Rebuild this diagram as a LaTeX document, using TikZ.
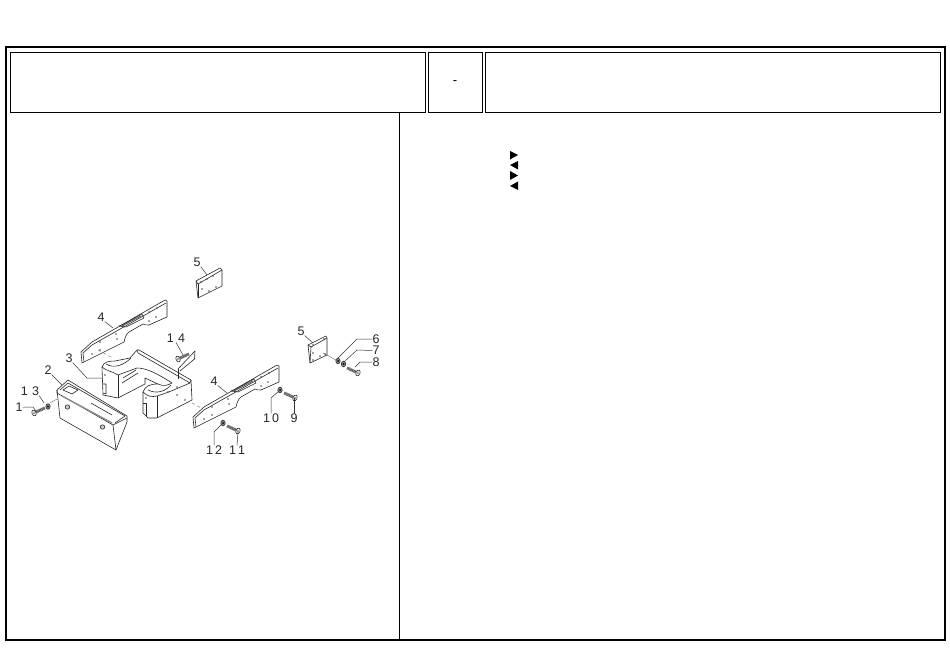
\documentclass[tikz,border=0pt]{standalone}
\usepackage{fontspec}
\setmainfont{Liberation Sans}
\tikzset{part/.style={line width=0.6pt,line join=round,black!85},
         axis/.style={line width=0.35pt,black!65},
         leader/.style={line width=0.5pt,black!80},
         frame/.style={draw,line width=1pt,inner sep=0pt,anchor=north west,minimum height=60.5pt},
         callout/.style={font=\fontsize{12.5}{13}\selectfont,text=black!85,inner sep=0pt},
         marker/.style={fill=black,draw=none},
         bolt/.pic={
           \draw[line width=3pt,black!65,dash pattern=on 1pt off 0.5pt](1,0)--(12,0);
           \draw[part,fill=white](0,0)circle[x radius=2,y radius=3];
           \fill[black!70](0,0)circle(0.9);
         },
         washer/.pic={
           \draw[part,fill=black!45](0,0)circle[x radius=2.2,y radius=2.8];
           \fill[black](0,0)circle(1);
         },
         rail/.pic={
           \draw[part,fill=white](0,0)--(-1,-11)--(10,-21)--(83,-63)--(85,-62)--(85,-46)--(67,-38)
             ..controls(64,-37)and(63,-39)..(61,-39)--(47,-31)..controls(44,-29)and(43,-25)..(42,-21)--cycle;
           \draw[part](2,-1)--(1,-10)--(10,-18)--(84,-60);
           \draw[part](37,-37)--(42,-39)--(60,-49)--(62,-45)--(44,-36)--cycle;
           \draw[line width=0.8pt,black!70](40,-37)--(59,-47);
           \foreach \hx/\hy in {10/-9,18/-13,18/-21,34/-29,35/-24,67/-51,75/-55,67/-42,74/-46}
             \fill[black!70](\hx,\hy)circle(0.8);
         },
        }
\begin{document}
\begin{tikzpicture}[x=1pt,y=-1pt]
  \useasboundingbox(0,0)rectangle(950,668);
  % frame
  \draw[line width=1.6pt](6,47)rectangle(945,640);
  \node[frame,minimum width=414.5pt](titleleft)at(10,52){};
  \node[frame,minimum width=53.8pt](titlemid)at(427.7,52){\fontsize{13}{13}\selectfont -};
  \node[frame,minimum width=455pt](titleright)at(485,52){};
  \draw[line width=0.8pt](399.5,113)--(399.5,640);
  % markers
  \fill[marker](510,151)--(518,155)--(510,159.5)--cycle;
  \fill[marker](518,161)--(510,165)--(518,169.5)--cycle;
  \fill[marker](510,171)--(518,175.5)--(510,180)--cycle;
  \fill[marker](518,181.5)--(510,186)--(518,190)--cycle;
  % box
  \draw[part,fill=white](57,390)--(68,380)--(127,416)--(127,422)--(116,450)--(60,418)--cycle;
  \draw[part](57,390)--(57,393)--(113,425)--(116,450);
  \draw[part](113,425)--(127,418);
  \draw[part](60,390)--(68,383)--(125,416)--(115,423);
  \draw[part](63,390)--(69,386)--(78,390)--(72,394)--cycle;
  \draw[line width=1.4pt,black!45](62,396)--(112,423);
  \draw[part](91,403)--(112,415);
  \draw[part,fill=black!20](67.5,407)circle[radius=2.2];
  \draw[part,fill=black!20](102.5,427)circle[radius=2.2];
  % bracket
  \draw[part,fill=white](102,367)..controls(104,362)and(108,361)..(115,361)
     --(130,358)--(137,350)--(139,350)--(191,380)--(192,400)--(157,418)--(148,418)--(143,413)
     --(143,392)..controls(145,386)and(150,384)..(158,384)--(145,378)--(145,384)--(118,398)--(103,395)--cycle;
  \draw[part](137,350)--(138,353)--(190,383)--(191,380);
  \draw[part](118,375)--(137,368)..controls(145,368)and(155,372)..(172,383);
  \draw[part](118,375)--(118,398);
  \draw[part](158,384)..controls(164,387)and(168,385)..(172,383);
  \draw[part](157,396)..controls(170,392)and(178,388)..(190,383);
  \draw[part](157,396)--(157,418);
  \draw[part](102,367)..controls(106,371)and(112,371)..(118,375);
  \draw[part](106,364)..controls(114,369)and(124,365)..(131,358);
  \draw[part](143,392)..controls(148,397)and(152,397)..(157,396);
  \draw[part](148,390)..controls(156,394)and(165,392)..(171,385);
  \draw[part](122,383)--(138,373);
  \draw[part](123,378)--(136,370);
  \draw[part](103,384)--(106,384)--(106,394)--(103,393);
  \draw[part](143,403)--(146,403)--(146,417);
  \foreach \hx/\hy in {105/375,177/395,185/400,177/387,168/392,146/398}
    \fill[black!70](\hx,\hy)circle(0.8);
  % tab
  \draw[part,fill=white](178,369)--(195,351)--(194.5,359)--(180,371);
  \draw[part](178,369)--(178,379);
  % plates
  \draw[part,fill=white](196,281)--(220,268)--(222,270)--(222,286)--(198,298)--cycle;
  \draw[part](196,281)--(198,284)--(222,270);
  \draw[part](198,284)--(198,298);
  \foreach \hx/\hy in {201/282,207/279,213/276,202/289,209/291,216/287}
    \fill[black!70](\hx,\hy)circle(0.8);
  \draw[part,fill=white](308,345)--(326,336)--(327,338)--(327,355)--(310,363)--cycle;
  \draw[part](308,345)--(311,347)--(327,338);
  \draw[part](311,347)--(310,363);
  \foreach \hx/\hy in {313/345,324/339,313/353,325/354,313/360,320/356}
    \fill[black!70](\hx,\hy)circle(0.8);
  % rails
  \pic at(82,363){rail};
  \pic at(194,428){rail};
  % fasteners
  \pic[rotate=25]at(34,413){bolt};
  \pic at(48,406.5){washer};
  \pic[rotate=25]at(178,359){bolt};
  \pic[rotate=155]at(238,431){bolt};
  \pic at(223,423){washer};
  \pic[rotate=155]at(295,398){bolt};
  \pic at(280,390){washer};
  \pic at(338,361){washer};
  \pic at(343.5,364){washer};
  \pic[rotate=155]at(358,373){bolt};
  % axes
  \draw[axis,dashed](98,350)--(113,358);
  \draw[axis,dashed](192,403)--(203,409);
  \draw[axis](323,353)--(336,360);
  \draw[axis](57,399)--(50,403);
  % labels
  \node[callout](num1)at(19,407){1};
  \node[callout](num13)at(30,391){1\,\,3};
  \node[callout](num2)at(48,370){2};
  \node[callout](num3)at(69,358){3};
  \node[callout](num4a)at(101,317){4};
  \node[callout](num5a)at(197,262){5};
  \node[callout](num14)at(176,338){1\,\,4};
  \node[callout](num4b)at(214,381){4};
  \node[callout](num5b)at(301,331){5};
  \node[callout](num6)at(376,339){6};
  \node[callout](num7)at(376,350.5){7};
  \node[callout](num8)at(376,362){8};
  \node[callout](num10)at(271,418){1\,0};
  \node[callout](num9)at(294,418){9};
  \node[callout](num12)at(214,450){1\,2};
  \node[callout](num11)at(237,450){1\,1};
  % leaders
  \draw[leader](num1.east)--(33,407)--(36,411);
  \draw[leader](num13.south east)--(44,403);
  \draw[leader](num2.south east)--(62,385);
  \draw[leader](num3.south east)--(87,378)--(102,378);
  \draw[leader](num4a.south east)--(113,328);
  \draw[leader](num5a.south east)--(207,275);
  \draw[leader](num14.south)--(183,355);
  \draw[leader](num4b.south east)--(227,393);
  \draw[leader](num5b.south east)--(313,343);
  \draw[leader](num6.west)--(357,339)--(338,358);
  \draw[leader](num7.west)--(357,350)--(344,362);
  \draw[leader](num8.west)--(360,362)--(355,367);
  \draw[leader](num10.north)--(271,398)--(279,391);
  \draw[leader](num9.north)--(294,398);
  \draw[leader](num12.north)--(214,432)--(222,424);
  \draw[leader](num11.north)--(238,432);
\end{tikzpicture}
\end{document}
